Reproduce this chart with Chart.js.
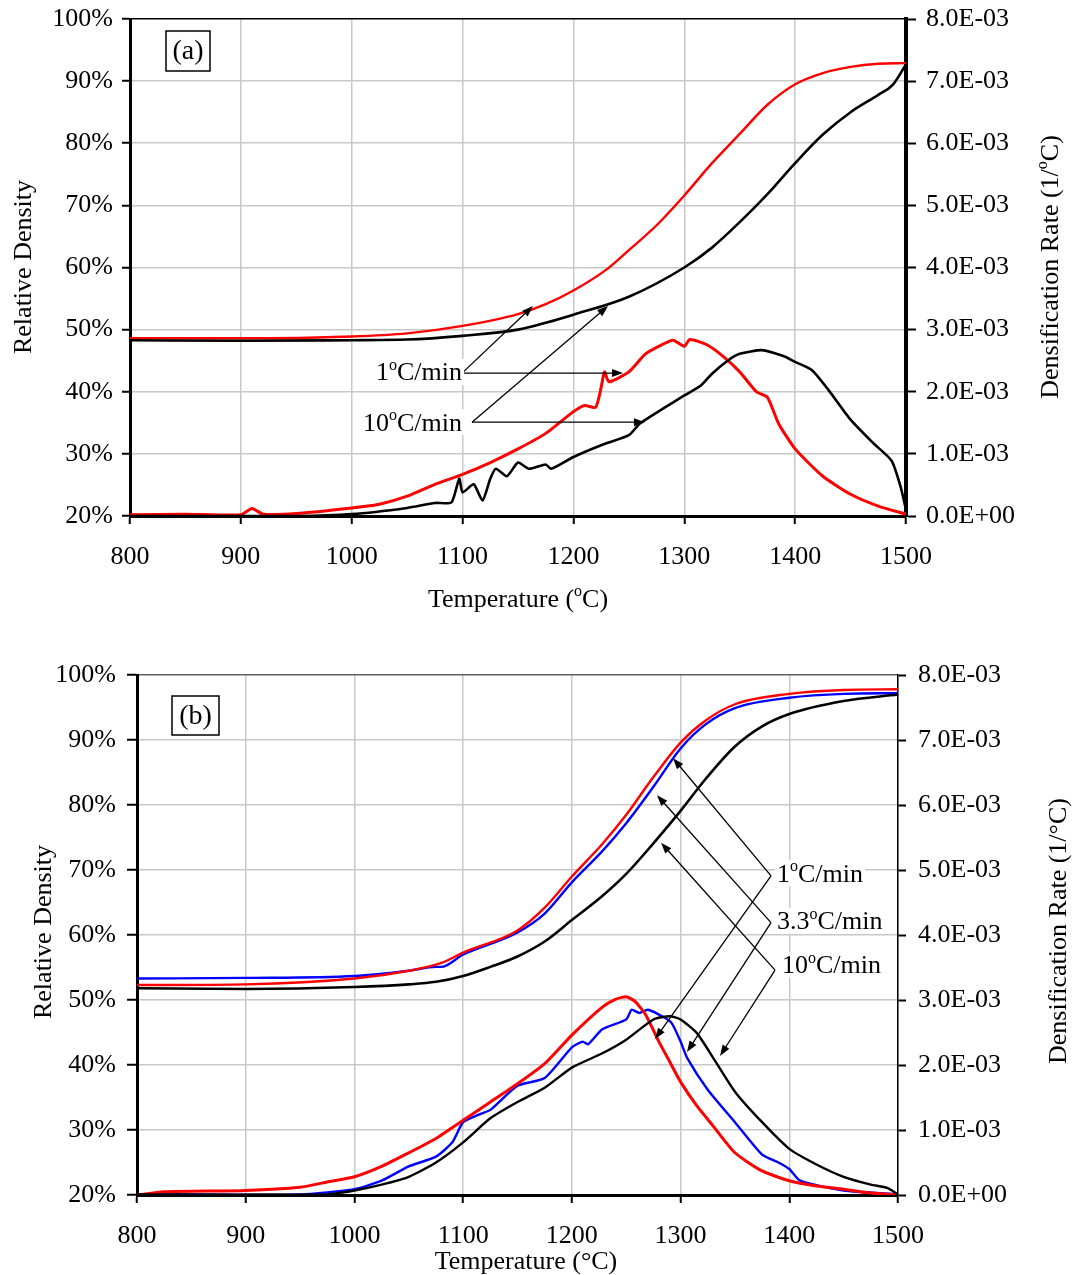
<!DOCTYPE html>
<html>
<head>
<meta charset="utf-8">
<script src="https://cdn.jsdelivr.net/npm/chart.js@4.4.0/dist/chart.umd.min.js"></script>
<style>
  body { margin: 0; background: #fff; }
  canvas { position: absolute; left: 0; }
  #chartA { top: 0; }
  #chartB { top: 640px; }
</style>
</head>
<body>
<canvas id="chartA" width="1073" height="630"></canvas>
<canvas id="chartB" width="1073" height="635"></canvas>
<script>
// ---------- panel (a) data : red = 1 C/min, black = 10 C/min ----------
const aRedDensT = [800, 900, 1000, 1050, 1100, 1150, 1175, 1200, 1230, 1250, 1275, 1300, 1325, 1350, 1375, 1400, 1425, 1450, 1475, 1500];
const aRedDens  = [0.486, 0.486, 0.489, 0.494, 0.506, 0.525, 0.541, 0.563, 0.597, 0.628, 0.668, 0.716, 0.768, 0.815, 0.862, 0.895, 0.913, 0.923, 0.928, 0.929];
const aBlkDensT = [800, 900, 1000, 1050, 1100, 1150, 1175, 1200, 1250, 1300, 1325, 1350, 1375, 1400, 1425, 1450, 1475, 1488, 1500];
const aBlkDens  = [0.483, 0.482, 0.483, 0.484, 0.490, 0.500, 0.511, 0.524, 0.553, 0.600, 0.632, 0.673, 0.718, 0.768, 0.814, 0.850, 0.878, 0.894, 0.927];
// densification rates in 1E-03 /C
const aRedRateT = [800, 850, 900, 910, 920, 950, 1000, 1025, 1050, 1075, 1100, 1125, 1150, 1175, 1200, 1210, 1220, 1225, 1228, 1232, 1250, 1265, 1280, 1290, 1300, 1305, 1320, 1335, 1350, 1365, 1375, 1385, 1400, 1425, 1450, 1475, 1500];
const aRedRate  = [0.02, 0.03, 0.02, 0.12, 0.03, 0.04, 0.13, 0.19, 0.32, 0.51, 0.67, 0.86, 1.08, 1.33, 1.68, 1.78, 1.75, 2.07, 2.32, 2.16, 2.32, 2.61, 2.76, 2.83, 2.73, 2.84, 2.76, 2.57, 2.32, 2.00, 1.91, 1.49, 1.08, 0.64, 0.35, 0.16, 0.03];
const aBlkRateT = [800, 950, 1000, 1050, 1075, 1090, 1097, 1100, 1110, 1118, 1125, 1130, 1140, 1150, 1160, 1175, 1180, 1200, 1225, 1250, 1260, 1280, 1300, 1315, 1325, 1340, 1350, 1370, 1390, 1400, 1415, 1430, 1450, 1470, 1487, 1495, 1500];
const aBlkRate  = [0, 0, 0.03, 0.13, 0.21, 0.22, 0.60, 0.38, 0.51, 0.25, 0.60, 0.76, 0.64, 0.86, 0.76, 0.83, 0.76, 0.95, 1.14, 1.30, 1.49, 1.72, 1.94, 2.10, 2.29, 2.51, 2.61, 2.67, 2.57, 2.48, 2.35, 2.03, 1.55, 1.18, 0.89, 0.48, 0.10];

// ---------- panel (b) data : red = 1, blue = 3.3, black = 10 C/min ----------
const bRedDensT = [800, 900, 1000, 1050, 1080, 1100, 1150, 1175, 1200, 1228, 1250, 1275, 1300, 1323, 1350, 1400, 1450, 1500];
const bRedDens  = [0.523, 0.524, 0.533, 0.545, 0.557, 0.573, 0.607, 0.642, 0.690, 0.740, 0.785, 0.843, 0.896, 0.930, 0.955, 0.971, 0.977, 0.978];
const bBluDensT = [800, 900, 1000, 1050, 1075, 1080, 1100, 1150, 1175, 1200, 1228, 1250, 1275, 1300, 1323, 1350, 1400, 1450, 1500];
const bBluDens  = [0.533, 0.534, 0.537, 0.545, 0.551, 0.551, 0.570, 0.604, 0.633, 0.681, 0.729, 0.772, 0.828, 0.887, 0.924, 0.949, 0.965, 0.971, 0.972];
const bBlkDensT = [800, 900, 1000, 1050, 1075, 1100, 1125, 1150, 1175, 1200, 1228, 1250, 1275, 1300, 1323, 1350, 1375, 1400, 1450, 1500];
const bBlkDens  = [0.518, 0.517, 0.520, 0.524, 0.528, 0.537, 0.551, 0.567, 0.590, 0.623, 0.660, 0.694, 0.741, 0.791, 0.840, 0.890, 0.921, 0.940, 0.960, 0.970];
const bRedRateT = [800, 825, 900, 950, 975, 1000, 1025, 1050, 1075, 1100, 1125, 1150, 1175, 1200, 1228, 1240, 1250, 1258, 1268, 1280, 1290, 1300, 1315, 1330, 1350, 1375, 1400, 1425, 1450, 1475, 1500];
const bRedRate  = [0, 0.05, 0.07, 0.12, 0.20, 0.28, 0.44, 0.65, 0.87, 1.15, 1.43, 1.71, 2.02, 2.46, 2.89, 3.01, 3.05, 2.98, 2.77, 2.36, 2.05, 1.74, 1.37, 1.06, 0.65, 0.37, 0.22, 0.14, 0.09, 0.03, 0];
const bBluRateT = [800, 950, 1000, 1025, 1050, 1075, 1090, 1100, 1115, 1125, 1150, 1175, 1200, 1210, 1215, 1228, 1250, 1255, 1262, 1270, 1285, 1292, 1300, 1306, 1325, 1350, 1375, 1390, 1400, 1410, 1450, 1500];
const bBluRate  = [0.01, 0.01, 0.09, 0.22, 0.44, 0.59, 0.81, 1.12, 1.24, 1.31, 1.68, 1.80, 2.27, 2.36, 2.32, 2.55, 2.70, 2.85, 2.80, 2.85, 2.73, 2.64, 2.36, 2.11, 1.62, 1.12, 0.62, 0.50, 0.40, 0.22, 0.07, 0.01];
const bBlkRateT = [800, 975, 1000, 1025, 1050, 1075, 1100, 1125, 1150, 1175, 1200, 1228, 1250, 1275, 1290, 1300, 1315, 1330, 1350, 1375, 1400, 1425, 1450, 1475, 1490, 1500];
const bBlkRate  = [0.01, 0.01, 0.07, 0.16, 0.28, 0.50, 0.81, 1.18, 1.43, 1.65, 1.96, 2.18, 2.39, 2.70, 2.75, 2.70, 2.49, 2.11, 1.59, 1.12, 0.71, 0.47, 0.28, 0.16, 0.11, 0.01];

// annotation anchors, in (temperature, relative density) units
const aArrows = [[1099.5, 0.430, 1163.5, 0.538], [1099.5, 0.430, 1244.7, 0.430],
                 [1108.5, 0.351, 1231.2, 0.538], [1108.5, 0.351, 1264.5, 0.351]];
const bArrows = [[1383.2, 0.691, 1293.1, 0.872], [1383.2, 0.691, 1276.5, 0.440],
                 [1383.2, 0.619, 1278.3, 0.815], [1383.2, 0.619, 1305.9, 0.420],
                 [1386.9, 0.546, 1282.0, 0.742], [1386.9, 0.546, 1336.3, 0.414]];

const SERIF = '"Liberation Serif", "Times New Roman", serif';
Chart.defaults.font.family = SERIF;
Chart.defaults.font.size = 26;
Chart.defaults.color = '#000';
const GRID = '#c8c8c8';

const deg = s => [{ t: s }, { t: 'o', sup: true }, { t: 'C/min' }];

function drawRich(ctx, parts, x, y, o) {
  const size = o.size || 26, sSize = Math.round(size * 0.62);
  const fN = size + 'px ' + SERIF, fS = sSize + 'px ' + SERIF;
  ctx.save();
  let w = 0;
  const ws = parts.map(p => { ctx.font = p.sup ? fS : fN; const m = ctx.measureText(p.t).width; w += m; return m; });
  ctx.translate(x, y);
  if (o.rot) ctx.rotate(o.rot);
  let sx = o.align === 'left' ? 0 : o.align === 'right' ? -w : -w / 2;
  if (o.bg) { ctx.fillStyle = '#fff'; ctx.fillRect(sx - 2, -size * 0.5, w + 4, size); }
  ctx.fillStyle = '#000';
  ctx.textBaseline = 'alphabetic';
  const base = size * 0.33;
  parts.forEach((p, i) => {
    ctx.font = p.sup ? fS : fN;
    ctx.fillText(p.t, sx, p.sup ? base - size * 0.4 : base);
    sx += ws[i];
  });
  ctx.restore();
}

function drawArrow(ctx, x1, y1, x2, y2) {
  const a = Math.atan2(y2 - y1, x2 - x1), L = 11, H = 4;
  ctx.beginPath(); ctx.moveTo(x1, y1); ctx.lineTo(x2 - L * 0.8 * Math.cos(a), y2 - L * 0.8 * Math.sin(a)); ctx.stroke();
  ctx.beginPath();
  ctx.moveTo(x2, y2);
  ctx.lineTo(x2 - L * Math.cos(a) + H * Math.sin(a), y2 - L * Math.sin(a) - H * Math.cos(a));
  ctx.lineTo(x2 - L * Math.cos(a) - H * Math.sin(a), y2 - L * Math.sin(a) + H * Math.cos(a));
  ctx.closePath(); ctx.fill();
}

const panelDeco = {
  id: 'panelDeco',
  afterDatasetsDraw(chart, args, o) {
    const { ctx, scales } = chart;
    const px = T => scales.x.getPixelForValue(T), py = d => scales.y.getPixelForValue(d);
    ctx.save();
    ctx.strokeStyle = '#000'; ctx.fillStyle = '#000'; ctx.lineWidth = 1.3;
    o.arrows.forEach(r => drawArrow(ctx, px(r[0]), py(r[1]), px(r[2]), py(r[3])));
    o.labels.forEach(l => drawRich(ctx, l.parts, px(l.T), py(l.d), { align: l.align, bg: true }));
    ctx.restore();
  },
  afterDraw(chart, args, o) {
    const { ctx, chartArea: a } = chart;
    const b = o.tag;
    ctx.save();
    ctx.fillStyle = '#fff'; ctx.fillRect(a.left + b.dx, a.top + b.dy, b.w, b.h);
    ctx.strokeStyle = '#000'; ctx.lineWidth = 1.5;
    ctx.strokeRect(a.left + b.dx, a.top + b.dy, b.w, b.h);
    ctx.restore();
    drawRich(ctx, [{ t: b.text }], a.left + b.dx + b.w / 2, a.top + b.dy + b.h / 2 - 1, { size: 28 });
    o.titles.forEach(t => drawRich(ctx, t.parts, t.x, t.y, { rot: t.rot }));
  }
};

function line(ts, vs, k, color, axis, width, smooth) {
  return {
    data: ts.map((t, i) => ({ x: t, y: vs[i] * k })),
    borderColor: color, backgroundColor: color, borderWidth: width,
    pointRadius: 0, yAxisID: axis, fill: false,
    cubicInterpolationMode: smooth ? 'monotone' : 'default', tension: smooth ? 0 : 0.2
  };
}

// fixed box sizes so the plot area lands where the original has it
const fitV = w => s => { s.width = w; s.paddingTop = 0; s.paddingBottom = 0; };
const fitH = h => s => { s.height = h; s.paddingLeft = 0; s.paddingRight = 0; };

function makeChart(id, datasets, L, deco) {
  return new Chart(document.getElementById(id), {
    type: 'line',
    data: { datasets },
    options: {
      responsive: false, animation: false, events: [],
      layout: { padding: { top: L.top, left: 0, right: 0, bottom: 0 } },
      plugins: { legend: { display: false }, tooltip: { enabled: false }, panelDeco: deco },
      scales: {
        x: {
          type: 'linear', min: 800, max: 1500,
          afterFit: fitH(L.xH),
          ticks: { stepSize: 100, padding: 18, maxRotation: 0, autoSkip: false, callback: v => String(v) },
          grid: { color: GRID, lineWidth: 1.5, tickLength: 8, tickColor: '#000', tickWidth: 2 },
          border: { color: '#000', width: 3 }
        },
        y: {
          position: 'left', min: 0.2, max: 1.0,
          afterFit: fitV(L.yW),
          ticks: { stepSize: 0.1, padding: L.yPad, callback: v => Math.round(v * 100) + '%' },
          grid: {
            color: c => (c.tick && c.tick.value > 0.999) ? L.topColor : GRID,
            lineWidth: 1.5, tickLength: L.yTick, tickColor: '#000', tickWidth: 2
          },
          border: { color: '#000', width: 3 }
        },
        y2: {
          position: 'right', min: 0, max: 0.008,
          afterFit: fitV(L.y2W),
          ticks: { stepSize: 0.001, padding: L.y2Pad, callback: v => v < 1e-9 ? '0.0E+00' : (v * 1000).toFixed(1) + 'E-03' },
          grid: { drawOnChartArea: false, tickLength: L.y2Tick, tickColor: '#000', tickWidth: 2 },
          border: { color: '#000', width: L.rightW }
        }
      }
    },
    plugins: [panelDeco]
  });
}

// ---------- panel (a) ----------
makeChart('chartA', [
  line(aBlkDensT, aBlkDens, 1, '#000000', 'y', 2.6, true),
  line(aRedDensT, aRedDens, 1, '#ff0000', 'y', 2.4, true),
  line(aBlkRateT, aBlkRate, 0.001, '#000000', 'y2', 2.6, false),
  line(aRedRateT, aRedRate, 0.001, '#ff0000', 'y2', 3, false)
], { top: 19, xH: 114, yW: 130, y2W: 167, yPad: 9, yTick: 8, y2Pad: 10, y2Tick: 10, rightW: 4, topColor: '#000' }, {
  arrows: aArrows,
  labels: [
    { parts: deg('1'), T: 1099.5, d: 0.432, align: 'right' },
    { parts: deg('10'), T: 1099.5, d: 0.351, align: 'right' }
  ],
  tag: { text: '(a)', dx: 36, dy: 12, w: 44, h: 40 },
  titles: [
    { parts: [{ t: 'Relative Density' }], x: 22, y: 267, rot: -Math.PI / 2 },
    { parts: [{ t: 'Densification Rate (1/' }, { t: 'o', sup: true }, { t: 'C)' }], x: 1049, y: 267, rot: -Math.PI / 2 },
    { parts: [{ t: 'Temperature (' }, { t: 'o', sup: true }, { t: 'C)' }], x: 518, y: 598 }
  ]
});

// ---------- panel (b) ----------
makeChart('chartB', [
  line(bBlkDensT, bBlkDens, 1, '#000000', 'y', 2.6, true),
  line(bRedDensT, bRedDens, 1, '#ff0000', 'y', 2.4, true),
  line(bBluDensT, bBluDens, 1, '#0000ff', 'y', 2.4, true),
  line(bBlkRateT, bBlkRate, 0.001, '#000000', 'y2', 2.4, false),
  line(bRedRateT, bRedRate, 0.001, '#ff0000', 'y2', 3, false),
  line(bBluRateT, bBluRate, 0.001, '#0000ff', 'y2', 2.4, false)
], { top: 35, xH: 80, yW: 137, y2W: 175, yPad: 11, yTick: 10, y2Pad: 12, y2Tick: 8, rightW: 1.5, topColor: '#606060' }, {
  arrows: bArrows,
  labels: [
    { parts: deg('1'), T: 1388.7, d: 0.695, align: 'left' },
    { parts: deg('3.3'), T: 1388.7, d: 0.622, align: 'left' },
    { parts: deg('10'), T: 1393.3, d: 0.554, align: 'left' }
  ],
  tag: { text: '(b)', dx: 35, dy: 21, w: 47, h: 39 },
  titles: [
    { parts: [{ t: 'Relative Density' }], x: 42, y: 292, rot: -Math.PI / 2 },
    { parts: [{ t: 'Densification Rate (1/°C)' }], x: 1057, y: 291, rot: -Math.PI / 2 },
    { parts: [{ t: 'Temperature (°C)' }], x: 526, y: 620 }
  ]
});
</script>
</body>
</html>
